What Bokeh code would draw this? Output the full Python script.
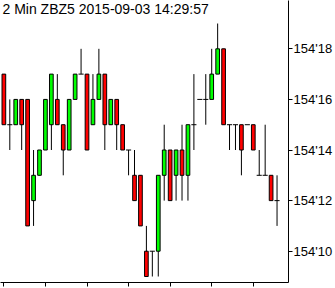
from bokeh.plotting import figure
from bokeh.models import Range1d, FixedTicker, Label, ColumnDataSource
from bokeh.embed import file_html
from bokeh.resources import INLINE

# Prices in 32nds above 154 (e.g. 17 -> 154'17)
opens  = [17, 15, 15, 16, 16, 12, 13, 14, 15, 16, 15, 14, 16, 17, 17, 15,
          16, 17, 15, 16, 15, 14, 13, 13, 10, 10, 10, 13, 14, 13, 14, 13,
          15, 16, 16, 16, 17, 18, 15, 15, 15, 15, 15, 13, 13, 13, 12]
highs  = [17, 16, 16, 16, 16, 14, 14, 16, 17, 17, 15, 16, 17, 18, 17, 17,
          18, 17, 16, 16, 15, 14, 14, 13, 11, 10, 13, 15, 14, 14, 15, 15,
          17, 16, 17, 18, 19, 18, 15, 15, 15, 15, 15, 14, 15, 13, 13]
lows   = [15, 14, 15, 14, 11, 11, 13, 14, 14, 15, 13, 14, 16, 17, 14, 15,
          16, 14, 15, 14, 14, 13, 12, 11, 9, 9, 9, 12, 12, 12, 12, 12,
          14, 16, 15, 16, 17, 15, 14, 14, 13, 15, 14, 13, 13, 12, 11]
closes = [15, 15, 16, 15, 11, 13, 14, 16, 17, 15, 14, 16, 17, 17, 14, 16,
          17, 15, 16, 15, 14, 14, 12, 11, 9, 10, 13, 14, 12, 14, 13, 15,
          15, 16, 16, 17, 18, 15, 15, 15, 14, 15, 14, 13, 13, 12, 12]

y_ticks = [10, 12, 14, 16, 18]
y_tick_labels = ["154'10", "154'12", "154'14", "154'16", "154'18"]
x_tick_step = 7
title_text = "2 Min ZBZ5 2015-09-03 14:29:57"

FONT = "Liberation Sans"

idx = list(range(len(opens)))

def sel(cond):
    xs = [i for i in idx if cond(i)]
    return ColumnDataSource(dict(
        x=xs,
        o=[opens[i] for i in xs],
        c=[closes[i] for i in xs],
        x0=[i - 0.43 for i in xs],
        x1=[i + 0.43 for i in xs],
    ))

up_src = sel(lambda i: closes[i] > opens[i])
dn_src = sel(lambda i: closes[i] < opens[i])
dj_src = sel(lambda i: closes[i] == opens[i])

p = figure(width=335, height=288, output_backend="svg", toolbar_location=None,
           x_range=Range1d(-0.567, 47.93), y_range=Range1d(8.763, 19.91),
           y_axis_location="right",
           min_border_left=0, min_border_top=0,
           min_border_right=44, min_border_bottom=6)
p.outline_line_color = None
p.grid.visible = False
p.background_fill_color = "white"
p.border_fill_color = "white"

# wicks
p.segment(x0=idx, y0=lows, x1=idx, y1=highs, line_color="black", line_width=1)
# bodies
p.vbar(x="x", width=0.62, top="c", bottom="o", source=up_src,
       fill_color="#00ff00", line_color="black", line_width=1)
p.vbar(x="x", width=0.62, top="o", bottom="c", source=dn_src,
       fill_color="#ff0000", line_color="black", line_width=1)
# doji
p.segment(x0="x0", y0="o", x1="x1", y1="o", source=dj_src,
          line_color="black", line_width=1)

xa = p.xaxis[0]
xa.ticker = FixedTicker(ticks=idx[::x_tick_step])
xa.major_tick_out = 4
xa.major_tick_in = 0
xa.minor_tick_out = 0
xa.minor_tick_in = 0
xa.major_label_text_font_size = "0px"
xa.major_label_text_alpha = 0
xa.major_label_standoff = 0
xa.axis_line_color = "black"
xa.major_tick_line_color = "black"

ya = p.yaxis[0]
ya.ticker = FixedTicker(ticks=y_ticks)
ya.major_label_overrides = {t: l for t, l in zip(y_ticks, y_tick_labels)}
ya.major_tick_out = 4
ya.major_tick_in = 0
ya.minor_tick_out = 0
ya.minor_tick_in = 0
ya.major_label_standoff = 1
ya.major_label_text_font = FONT
ya.major_label_text_font_size = "13px"
ya.major_label_text_color = "black"
ya.axis_line_color = "black"
ya.major_tick_line_color = "black"

p.add_layout(Label(x=p.x_range.start, y=p.y_range.end, x_offset=2, y_offset=0,
                   text=title_text, text_baseline="top", text_align="left",
                   text_font=FONT, text_font_size="14px",
                   text_color="black"))

open("out.html", "w").write(file_html(p, INLINE))
